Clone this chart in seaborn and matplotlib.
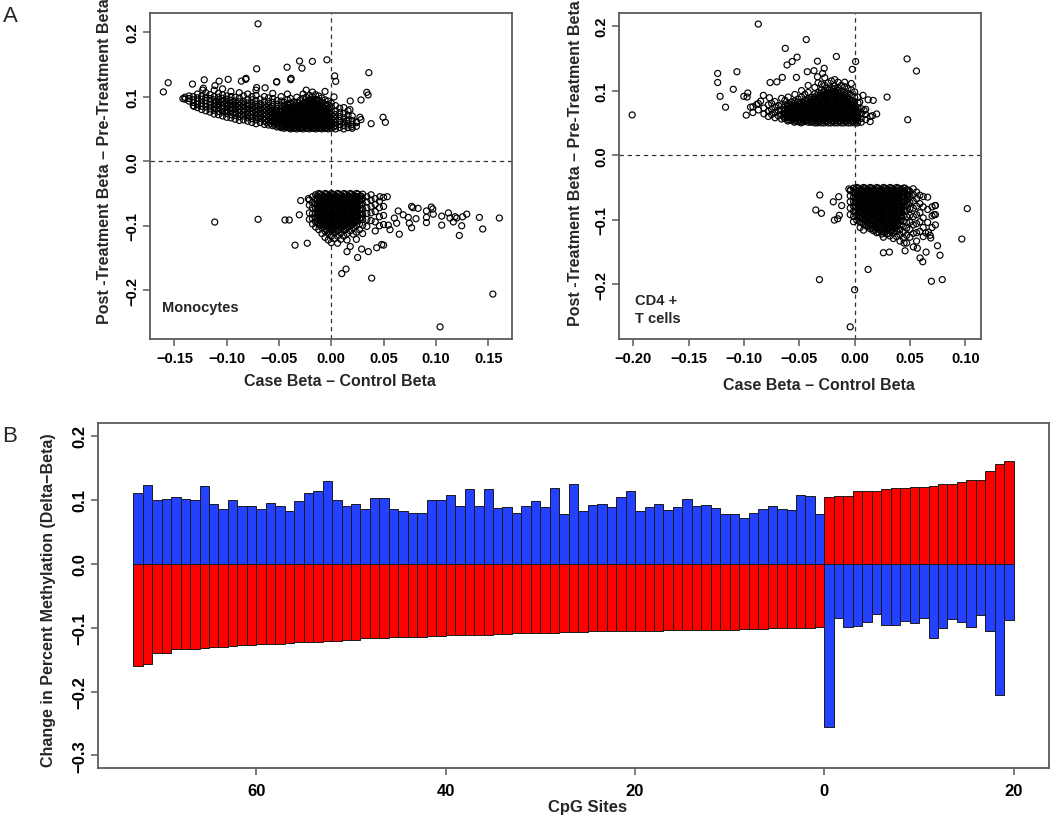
import pandas as pd
import seaborn as sns
import matplotlib.pyplot as plt

sns.set_theme(style="white")
plt.rcParams["font.family"] = ["Liberation Sans", "DejaVu Sans"]

BLUE = "#2441ff"
RED = "#ff0000"
FRAME = "#5a5a5a"

# ---------------- panel A: monocytes (x = case - control, y = post - pre) ----------------
# dense parts read column by column: (x, [y values])
mono_upper = [
    (-0.140, [0.096, 0.099]),
    (-0.136, [0.093, 0.097, 0.101]),
    (-0.132, [0.086, 0.091, 0.095, 0.100]),
    (-0.128, [0.083, 0.088, 0.093, 0.098, 0.104]),
    (-0.124, [0.080, 0.085, 0.090, 0.096, 0.101]),
    (-0.120, [0.078, 0.084, 0.089, 0.094, 0.099, 0.106]),
    (-0.116, [0.076, 0.081, 0.087, 0.092, 0.097, 0.103]),
    (-0.112, [0.073, 0.079, 0.084, 0.090, 0.095, 0.100, 0.110]),
    (-0.108, [0.072, 0.077, 0.083, 0.088, 0.093, 0.099, 0.105]),
    (-0.104, [0.070, 0.076, 0.081, 0.086, 0.092, 0.097, 0.103, 0.112]),
    (-0.100, [0.068, 0.074, 0.079, 0.085, 0.090, 0.096, 0.101]),
    (-0.096, [0.067, 0.072, 0.078, 0.083, 0.089, 0.094, 0.100, 0.108]),
    (-0.092, [0.065, 0.071, 0.076, 0.082, 0.087, 0.093, 0.099]),
    (-0.088, [0.063, 0.069, 0.075, 0.080, 0.086, 0.092, 0.098, 0.106]),
    (-0.084, [0.064, 0.070, 0.076, 0.081, 0.087, 0.093, 0.101]),
    (-0.080, [0.062, 0.067, 0.073, 0.079, 0.085, 0.090, 0.096, 0.104]),
    (-0.076, [0.060, 0.066, 0.072, 0.077, 0.083, 0.089, 0.095, 0.100]),
    (-0.072, [0.058, 0.064, 0.070, 0.076, 0.082, 0.088, 0.094, 0.102, 0.110]),
    (-0.068, [0.060, 0.066, 0.071, 0.077, 0.083, 0.089, 0.096]),
    (-0.064, [0.057, 0.063, 0.069, 0.075, 0.081, 0.087, 0.093, 0.100]),
    (-0.060, [0.056, 0.062, 0.068, 0.074, 0.080, 0.086, 0.092, 0.098]),
    (-0.056, [0.055, 0.061, 0.067, 0.073, 0.079, 0.085, 0.091, 0.097, 0.105]),
    (-0.052, [0.053, 0.058, 0.064, 0.070, 0.076, 0.082, 0.088, 0.094]),
    (-0.048, [0.052, 0.056, 0.061, 0.066, 0.071, 0.076, 0.081, 0.087, 0.093, 0.100]),
    (-0.045, [0.051, 0.055, 0.060, 0.065, 0.070, 0.075, 0.080, 0.085, 0.091]),
    (-0.042, [0.052, 0.057, 0.062, 0.067, 0.072, 0.077, 0.082, 0.088, 0.095, 0.104]),
    (-0.039, [0.050, 0.054, 0.059, 0.064, 0.069, 0.074, 0.079, 0.084, 0.090, 0.097]),
    (-0.036, [0.051, 0.056, 0.061, 0.066, 0.071, 0.076, 0.081, 0.086, 0.092]),
    (-0.033, [0.050, 0.054, 0.059, 0.064, 0.069, 0.074, 0.079, 0.085, 0.091, 0.099]),
    (-0.030, [0.051, 0.056, 0.061, 0.066, 0.071, 0.076, 0.081, 0.087, 0.094]),
    (-0.027, [0.050, 0.054, 0.059, 0.064, 0.069, 0.074, 0.079, 0.084, 0.090, 0.097, 0.104]),
    (-0.024, [0.051, 0.056, 0.061, 0.066, 0.071, 0.076, 0.081, 0.086, 0.092, 0.099, 0.110]),
    (-0.021, [0.050, 0.054, 0.059, 0.064, 0.069, 0.074, 0.079, 0.084, 0.089, 0.095, 0.102]),
    (-0.018, [0.051, 0.056, 0.061, 0.066, 0.071, 0.076, 0.081, 0.087, 0.093, 0.100, 0.107]),
    (-0.015, [0.050, 0.054, 0.059, 0.064, 0.069, 0.074, 0.079, 0.084, 0.090, 0.096, 0.103]),
    (-0.012, [0.051, 0.056, 0.061, 0.066, 0.071, 0.076, 0.081, 0.087, 0.094, 0.101]),
    (-0.009, [0.050, 0.054, 0.059, 0.064, 0.069, 0.074, 0.079, 0.085, 0.091, 0.098]),
    (-0.006, [0.051, 0.056, 0.061, 0.066, 0.071, 0.076, 0.082, 0.088, 0.095, 0.108]),
    (-0.003, [0.050, 0.054, 0.059, 0.064, 0.069, 0.075, 0.081, 0.087, 0.093]),
    (0.000, [0.051, 0.056, 0.061, 0.066, 0.072, 0.078, 0.084, 0.090]),
    (0.004, [0.050, 0.055, 0.060, 0.066, 0.072, 0.078, 0.086]),
    (0.008, [0.052, 0.057, 0.063, 0.069, 0.075, 0.082]),
    (0.012, [0.050, 0.055, 0.061, 0.067, 0.074, 0.083]),
    (0.016, [0.052, 0.058, 0.064, 0.071, 0.078]),
    (0.020, [0.051, 0.057, 0.063, 0.070]),
    (0.024, [0.054, 0.061]),
]
# the solid black core of the same cloud, between the columns above
mono_upper_core = [
    (-0.110, [0.081, 0.087, 0.093]),
    (-0.102, [0.077, 0.083, 0.089, 0.094]),
    (-0.094, [0.075, 0.081, 0.087, 0.092]),
    (-0.086, [0.072, 0.078, 0.084, 0.090]),
    (-0.078, [0.069, 0.075, 0.081, 0.087]),
    (-0.070, [0.067, 0.073, 0.079, 0.085]),
    (-0.062, [0.060, 0.066, 0.072, 0.078, 0.084]),
    (-0.058, [0.058, 0.064, 0.070, 0.076, 0.082]),
    (-0.054, [0.056, 0.061, 0.067, 0.073, 0.079]),
    (-0.050, [0.054, 0.059, 0.065, 0.071, 0.077]),
    (-0.0465, [0.053, 0.058, 0.063, 0.068, 0.073, 0.078]),
    (-0.0435, [0.053, 0.058, 0.063, 0.068, 0.073, 0.078, 0.083]),
    (-0.0405, [0.052, 0.057, 0.062, 0.067, 0.072, 0.077, 0.082]),
    (-0.0375, [0.053, 0.058, 0.063, 0.068, 0.073, 0.078, 0.083]),
    (-0.0345, [0.052, 0.057, 0.062, 0.067, 0.072, 0.077, 0.082, 0.087]),
    (-0.0315, [0.053, 0.058, 0.063, 0.068, 0.073, 0.078, 0.083]),
    (-0.0285, [0.052, 0.057, 0.062, 0.067, 0.072, 0.077, 0.082, 0.087]),
    (-0.0255, [0.053, 0.058, 0.063, 0.068, 0.073, 0.078, 0.083, 0.089]),
    (-0.0225, [0.052, 0.057, 0.062, 0.067, 0.072, 0.077, 0.082, 0.087, 0.093]),
    (-0.0195, [0.053, 0.058, 0.063, 0.068, 0.073, 0.078, 0.083, 0.089, 0.095]),
    (-0.0165, [0.052, 0.057, 0.062, 0.067, 0.072, 0.077, 0.082, 0.087, 0.093]),
    (-0.0135, [0.053, 0.058, 0.063, 0.068, 0.073, 0.078, 0.083, 0.089]),
    (-0.0105, [0.052, 0.057, 0.062, 0.067, 0.072, 0.077, 0.082, 0.087]),
    (-0.0075, [0.053, 0.058, 0.063, 0.068, 0.073, 0.078, 0.083]),
    (-0.0045, [0.052, 0.057, 0.062, 0.067, 0.072, 0.077]),
    (-0.0015, [0.053, 0.058, 0.063, 0.068, 0.073]),
    (0.002, [0.053, 0.058, 0.063, 0.069]),
]
mono_lower = [
    (-0.021, [-0.060, -0.068, -0.080, -0.090]),
    (-0.018, [-0.055, -0.064, -0.072, -0.081, -0.089, -0.097]),
    (-0.015, [-0.052, -0.059, -0.066, -0.073, -0.080, -0.087, -0.094, -0.102]),
    (-0.012, [-0.050, -0.056, -0.063, -0.070, -0.077, -0.084, -0.091, -0.098, -0.106]),
    (-0.009, [-0.053, -0.060, -0.067, -0.074, -0.081, -0.088, -0.095, -0.103, -0.112]),
    (-0.006, [-0.050, -0.056, -0.063, -0.070, -0.077, -0.084, -0.091, -0.099, -0.108, -0.118]),
    (-0.003, [-0.053, -0.060, -0.067, -0.074, -0.081, -0.088, -0.095, -0.103, -0.112, -0.122]),
    (0.000, [-0.050, -0.056, -0.063, -0.070, -0.077, -0.084, -0.091, -0.099, -0.107, -0.116, -0.126]),
    (0.003, [-0.053, -0.060, -0.067, -0.074, -0.081, -0.088, -0.095, -0.103, -0.111, -0.120]),
    (0.006, [-0.050, -0.056, -0.063, -0.070, -0.077, -0.084, -0.091, -0.099, -0.107, -0.116, -0.127]),
    (0.009, [-0.053, -0.060, -0.067, -0.074, -0.081, -0.088, -0.095, -0.103, -0.111, -0.121]),
    (0.012, [-0.050, -0.056, -0.063, -0.070, -0.077, -0.084, -0.091, -0.099, -0.107, -0.116]),
    (0.015, [-0.053, -0.060, -0.067, -0.074, -0.081, -0.088, -0.095, -0.103, -0.112, -0.122]),
    (0.018, [-0.050, -0.056, -0.063, -0.070, -0.077, -0.084, -0.091, -0.099, -0.108]),
    (0.021, [-0.053, -0.060, -0.067, -0.074, -0.081, -0.088, -0.095, -0.103, -0.113]),
    (0.024, [-0.050, -0.057, -0.064, -0.071, -0.078, -0.085, -0.092, -0.100, -0.110, -0.121]),
    (0.027, [-0.054, -0.061, -0.068, -0.075, -0.082, -0.089, -0.097, -0.106]),
    (0.030, [-0.051, -0.058, -0.066, -0.074, -0.082, -0.090, -0.099, -0.112]),
    (0.034, [-0.055, -0.063, -0.072, -0.081, -0.090, -0.101]),
    (0.038, [-0.052, -0.060, -0.070, -0.080, -0.092]),
    (0.042, [-0.058, -0.067, -0.078, -0.094, -0.108]),
    (0.046, [-0.062, -0.072, -0.086, -0.100]),
    (0.050, [-0.056, -0.070, -0.084, -0.098, -0.130]),
]
mono_lower_core = [
    (-0.0135, [-0.054, -0.060, -0.067, -0.074, -0.081, -0.088, -0.095]),
    (-0.0105, [-0.051, -0.057, -0.064, -0.071, -0.078, -0.085, -0.092, -0.099]),
    (-0.0075, [-0.054, -0.060, -0.067, -0.074, -0.081, -0.088, -0.095, -0.102]),
    (-0.0045, [-0.051, -0.057, -0.064, -0.071, -0.078, -0.085, -0.092, -0.099, -0.106]),
    (-0.0015, [-0.054, -0.060, -0.067, -0.074, -0.081, -0.088, -0.095, -0.102, -0.109]),
    (0.0015, [-0.051, -0.057, -0.064, -0.071, -0.078, -0.085, -0.092, -0.099, -0.106]),
    (0.0045, [-0.054, -0.060, -0.067, -0.074, -0.081, -0.088, -0.095, -0.102, -0.109]),
    (0.0075, [-0.051, -0.057, -0.064, -0.071, -0.078, -0.085, -0.092, -0.099, -0.106]),
    (0.0105, [-0.054, -0.060, -0.067, -0.074, -0.081, -0.088, -0.095, -0.102]),
    (0.0135, [-0.051, -0.057, -0.064, -0.071, -0.078, -0.085, -0.092, -0.099, -0.106]),
    (0.0165, [-0.054, -0.060, -0.067, -0.074, -0.081, -0.088, -0.095, -0.102]),
    (0.0195, [-0.051, -0.057, -0.064, -0.071, -0.078, -0.085, -0.092, -0.099]),
    (0.0225, [-0.054, -0.060, -0.067, -0.074, -0.081, -0.088, -0.095]),
    (0.0255, [-0.051, -0.057, -0.064, -0.071, -0.078, -0.085, -0.092]),
    (0.0285, [-0.054, -0.060, -0.067, -0.074, -0.081, -0.088]),
]
mono_sparse = [
    (-0.0701, 0.2126), (-0.1606, 0.1073), (-0.1560, 0.1215), (-0.1328, 0.1194), (-0.1215, 0.1260),
    (-0.1073, 0.1240), (-0.0986, 0.1267), (-0.0860, 0.1240), (-0.0818, 0.1267), (-0.0714, 0.1430),
    (-0.0633, 0.1136), (-0.0524, 0.1225), (-0.0423, 0.1455), (-0.0388, 0.1262), (-0.0304, 0.1550),
    (-0.0281, 0.1440), (-0.0181, 0.1545), (-0.0042, 0.1570), (0.0032, 0.1320), (0.0042, 0.1236),
    (0.0359, 0.1370), (0.0352, 0.1026), (0.0284, 0.0948), (0.0181, 0.0932), (0.0495, 0.0680),
    (0.0517, 0.0602), (0.0381, 0.0581), (0.0284, 0.0644), (0.0242, 0.0597), (0.0194, 0.0534),
    (-0.1419, 0.0969), (-0.1230, 0.1100), (-0.1312, 0.0848), (0.0026, 0.0995), (-0.1224, 0.1130),
    (-0.1113, 0.1170), (-0.0816, 0.1283), (-0.0714, 0.1140), (-0.0522, 0.1231), (-0.0385, 0.1283),
    (0.0339, 0.1066), (0.0178, 0.0798), (0.0274, 0.0680), (0.0146, 0.0627),
    (0.0465, -0.055), (0.0535, -0.055), (0.0640, -0.077), (0.0688, -0.083), (0.0768, -0.070),
    (0.0780, -0.072), (0.0810, -0.089), (0.0830, -0.073), (0.0910, -0.077), (0.0910, -0.087),
    (0.0910, -0.095), (0.0956, -0.071), (0.0970, -0.074), (0.0975, -0.082), (0.1056, -0.085),
    (0.1056, -0.099), (0.1120, -0.080), (0.1135, -0.088), (0.1167, -0.094), (0.1183, -0.086),
    (0.1199, -0.088), (0.1256, -0.086), (0.1247, -0.100), (0.1295, -0.082), (0.1224, -0.115),
    (0.1416, -0.087), (0.1448, -0.105), (0.1607, -0.088),
    (0.0603, -0.088), (0.0625, -0.096), (0.0545, -0.099), (0.0561, -0.106), (0.0650, -0.113),
    (0.0736, -0.087), (0.0746, -0.096), (0.0768, -0.103),
    (-0.0443, -0.091), (-0.0402, -0.091), (-0.0306, -0.083), (-0.0347, -0.130), (-0.0230, -0.127),
    (-0.0293, -0.061), (-0.0220, -0.058),
    (0.0100, -0.174), (0.0141, -0.167), (0.0252, -0.149), (0.0386, -0.181), (0.0181, -0.132),
    (0.0150, -0.140), (0.0434, -0.134), (0.0482, -0.129), (0.0354, -0.140), (0.0290, -0.136),
    (0.1040, -0.2565), (0.1545, -0.2057), (-0.1115, -0.0942), (-0.0700, -0.0900),
]

# ---------------- panel A: CD4+ T cells ----------------
cd4_upper = [
    (-0.098, [0.062]),
    (-0.092, [0.066, 0.075]),
    (-0.087, [0.070, 0.080]),
    (-0.082, [0.064, 0.073]),
    (-0.078, [0.060, 0.068, 0.078]),
    (-0.075, [0.063, 0.071, 0.080]),
    (-0.072, [0.058, 0.066, 0.074, 0.083]),
    (-0.069, [0.061, 0.069, 0.077]),
    (-0.066, [0.056, 0.063, 0.070, 0.078, 0.088]),
    (-0.063, [0.059, 0.065, 0.071, 0.078, 0.085]),
    (-0.060, [0.055, 0.061, 0.067, 0.073, 0.080, 0.090]),
    (-0.057, [0.057, 0.063, 0.069, 0.075, 0.082]),
    (-0.054, [0.053, 0.059, 0.065, 0.071, 0.077, 0.084, 0.094]),
    (-0.051, [0.055, 0.061, 0.067, 0.073, 0.079, 0.087]),
    (-0.048, [0.052, 0.058, 0.064, 0.070, 0.076, 0.082, 0.090, 0.100]),
    (-0.045, [0.054, 0.060, 0.066, 0.072, 0.078, 0.085, 0.094]),
    (-0.042, [0.051, 0.057, 0.063, 0.069, 0.075, 0.081, 0.088, 0.097, 0.108]),
    (-0.039, [0.053, 0.059, 0.065, 0.071, 0.077, 0.083, 0.090]),
    (-0.036, [0.050, 0.056, 0.062, 0.068, 0.074, 0.080, 0.087, 0.095, 0.105]),
    (-0.033, [0.052, 0.058, 0.064, 0.070, 0.076, 0.082, 0.089, 0.097, 0.112]),
    (-0.030, [0.050, 0.056, 0.062, 0.068, 0.074, 0.080, 0.086, 0.093, 0.101, 0.110]),
    (-0.027, [0.053, 0.059, 0.065, 0.071, 0.077, 0.083, 0.090, 0.098, 0.108, 0.120]),
    (-0.024, [0.050, 0.056, 0.062, 0.068, 0.074, 0.080, 0.086, 0.093, 0.101, 0.112]),
    (-0.021, [0.053, 0.059, 0.065, 0.071, 0.077, 0.083, 0.089, 0.096, 0.104, 0.115]),
    (-0.018, [0.050, 0.056, 0.062, 0.068, 0.074, 0.080, 0.086, 0.092, 0.099, 0.107, 0.117]),
    (-0.015, [0.053, 0.059, 0.065, 0.071, 0.077, 0.083, 0.089, 0.096, 0.104, 0.113]),
    (-0.012, [0.050, 0.056, 0.062, 0.068, 0.074, 0.080, 0.086, 0.092, 0.099, 0.108]),
    (-0.009, [0.053, 0.059, 0.065, 0.071, 0.077, 0.083, 0.090, 0.098, 0.106, 0.113]),
    (-0.006, [0.050, 0.056, 0.062, 0.068, 0.074, 0.080, 0.087, 0.095, 0.103]),
    (-0.003, [0.053, 0.059, 0.065, 0.071, 0.078, 0.085, 0.093, 0.101, 0.111]),
    (0.000, [0.050, 0.056, 0.062, 0.068, 0.075, 0.082, 0.090, 0.098]),
    (0.003, [0.053, 0.059, 0.066, 0.073, 0.081, 0.090]),
    (0.006, [0.051, 0.057, 0.064, 0.072]),
    (0.010, [0.055, 0.063, 0.071]),
    (0.014, [0.052, 0.060]),
]
cd4_upper_core = [
    (-0.0635, [0.057, 0.062, 0.068, 0.074]),
    (-0.0605, [0.053, 0.058, 0.064, 0.070, 0.076]),
    (-0.0575, [0.054, 0.060, 0.066, 0.072, 0.078]),
    (-0.0545, [0.051, 0.056, 0.062, 0.068, 0.074, 0.080]),
    (-0.0515, [0.052, 0.058, 0.064, 0.070, 0.076, 0.082]),
    (-0.0485, [0.050, 0.055, 0.061, 0.067, 0.073, 0.079]),
    (-0.0455, [0.052, 0.057, 0.063, 0.069, 0.075, 0.081]),
    (-0.0425, [0.054, 0.060, 0.066, 0.072, 0.078, 0.084]),
    (-0.0395, [0.051, 0.056, 0.062, 0.068, 0.074, 0.080, 0.086]),
    (-0.0365, [0.053, 0.059, 0.065, 0.071, 0.077, 0.083, 0.090]),
    (-0.0335, [0.050, 0.055, 0.061, 0.067, 0.073, 0.079, 0.085, 0.092]),
    (-0.0305, [0.053, 0.059, 0.065, 0.071, 0.077, 0.083, 0.089, 0.096]),
    (-0.0275, [0.050, 0.056, 0.062, 0.068, 0.074, 0.080, 0.086, 0.093, 0.100]),
    (-0.0245, [0.053, 0.059, 0.065, 0.071, 0.077, 0.083, 0.089, 0.096, 0.104]),
    (-0.0215, [0.050, 0.056, 0.062, 0.068, 0.074, 0.080, 0.086, 0.092, 0.100]),
    (-0.0185, [0.053, 0.059, 0.065, 0.071, 0.077, 0.083, 0.089, 0.096, 0.103]),
    (-0.0155, [0.050, 0.056, 0.062, 0.068, 0.074, 0.080, 0.086, 0.092, 0.100]),
    (-0.0125, [0.053, 0.059, 0.065, 0.071, 0.077, 0.083, 0.089, 0.096]),
    (-0.0095, [0.050, 0.056, 0.062, 0.068, 0.074, 0.080, 0.086, 0.093]),
    (-0.0065, [0.053, 0.059, 0.065, 0.071, 0.077, 0.083, 0.090]),
    (-0.0035, [0.050, 0.056, 0.062, 0.068, 0.074, 0.081]),
    (-0.0005, [0.053, 0.059, 0.065, 0.071, 0.078]),
    (0.0025, [0.050, 0.056, 0.062, 0.069]),
]
cd4_lower = [
    (-0.004, [-0.055, -0.063, -0.072, -0.082, -0.092]),
    (-0.001, [-0.051, -0.058, -0.065, -0.072, -0.079, -0.087, -0.095, -0.103]),
    (0.002, [-0.050, -0.056, -0.062, -0.068, -0.074, -0.080, -0.087, -0.094, -0.101]),
    (0.005, [-0.053, -0.059, -0.065, -0.071, -0.077, -0.083, -0.090, -0.097, -0.104, -0.112]),
    (0.008, [-0.050, -0.056, -0.062, -0.068, -0.074, -0.080, -0.086, -0.093, -0.100, -0.107, -0.116]),
    (0.011, [-0.053, -0.059, -0.065, -0.071, -0.077, -0.083, -0.089, -0.096, -0.103, -0.110]),
    (0.014, [-0.050, -0.056, -0.062, -0.068, -0.074, -0.080, -0.086, -0.092, -0.099, -0.106, -0.114]),
    (0.017, [-0.053, -0.059, -0.065, -0.071, -0.077, -0.083, -0.089, -0.095, -0.102, -0.109, -0.117]),
    (0.020, [-0.050, -0.056, -0.062, -0.068, -0.074, -0.080, -0.086, -0.092, -0.098, -0.105, -0.112, -0.120]),
    (0.023, [-0.053, -0.059, -0.065, -0.071, -0.077, -0.083, -0.089, -0.095, -0.101, -0.108, -0.115]),
    (0.026, [-0.050, -0.056, -0.062, -0.068, -0.074, -0.080, -0.086, -0.092, -0.098, -0.104, -0.111, -0.119, -0.127]),
    (0.029, [-0.053, -0.059, -0.065, -0.071, -0.077, -0.083, -0.089, -0.095, -0.101, -0.107, -0.114, -0.122]),
    (0.032, [-0.050, -0.056, -0.062, -0.068, -0.074, -0.080, -0.086, -0.092, -0.098, -0.104, -0.110, -0.117, -0.125]),
    (0.035, [-0.053, -0.059, -0.065, -0.071, -0.077, -0.083, -0.089, -0.095, -0.101, -0.107, -0.113, -0.120, -0.129]),
    (0.038, [-0.050, -0.056, -0.062, -0.068, -0.074, -0.080, -0.086, -0.092, -0.098, -0.104, -0.111, -0.118, -0.126]),
    (0.041, [-0.053, -0.059, -0.066, -0.073, -0.080, -0.087, -0.094, -0.101, -0.108, -0.115, -0.123, -0.133]),
    (0.044, [-0.051, -0.057, -0.064, -0.071, -0.078, -0.086, -0.094, -0.102, -0.110, -0.119, -0.128]),
    (0.047, [-0.054, -0.061, -0.069, -0.077, -0.086, -0.095, -0.104, -0.113, -0.124, -0.136]),
    (0.050, [-0.056, -0.064, -0.073, -0.083, -0.093, -0.104, -0.115, -0.127]),
    (0.053, [-0.052, -0.061, -0.071, -0.082, -0.095, -0.108, -0.121]),
    (0.056, [-0.057, -0.067, -0.079, -0.092, -0.106, -0.120, -0.133]),
    (0.059, [-0.062, -0.075, -0.089, -0.103, -0.118]),
    (0.062, [-0.064, -0.080, -0.097, -0.112, -0.126]),
    (0.066, [-0.065, -0.084, -0.104]),
    (0.070, [-0.080, -0.094, -0.112]),
    (0.073, [-0.078, -0.092, -0.108]),
]
cd4_lower_core = [
    (0.0005, [-0.053, -0.059, -0.066, -0.073, -0.080, -0.088]),
    (0.0035, [-0.051, -0.056, -0.062, -0.068, -0.074, -0.081, -0.088, -0.095]),
    (0.0065, [-0.053, -0.059, -0.065, -0.071, -0.077, -0.083, -0.090, -0.097, -0.104]),
    (0.0095, [-0.051, -0.056, -0.062, -0.068, -0.074, -0.080, -0.086, -0.093, -0.100, -0.107]),
    (0.0125, [-0.053, -0.059, -0.065, -0.071, -0.077, -0.083, -0.089, -0.096, -0.103, -0.110]),
    (0.0155, [-0.051, -0.056, -0.062, -0.068, -0.074, -0.080, -0.086, -0.092, -0.099, -0.106, -0.113]),
    (0.0185, [-0.053, -0.059, -0.065, -0.071, -0.077, -0.083, -0.089, -0.095, -0.102, -0.109, -0.116]),
    (0.0215, [-0.051, -0.056, -0.062, -0.068, -0.074, -0.080, -0.086, -0.092, -0.098, -0.105, -0.112, -0.119]),
    (0.0245, [-0.053, -0.059, -0.065, -0.071, -0.077, -0.083, -0.089, -0.095, -0.101, -0.108, -0.115, -0.122]),
    (0.0275, [-0.051, -0.056, -0.062, -0.068, -0.074, -0.080, -0.086, -0.092, -0.098, -0.104, -0.111, -0.118]),
    (0.0305, [-0.053, -0.059, -0.065, -0.071, -0.077, -0.083, -0.089, -0.095, -0.101, -0.107, -0.114, -0.121]),
    (0.0335, [-0.051, -0.056, -0.062, -0.068, -0.074, -0.080, -0.086, -0.092, -0.098, -0.104, -0.110, -0.117]),
    (0.0365, [-0.053, -0.059, -0.065, -0.071, -0.077, -0.083, -0.089, -0.095, -0.101, -0.107, -0.114]),
    (0.0395, [-0.051, -0.056, -0.062, -0.068, -0.074, -0.080, -0.086, -0.092, -0.098, -0.105]),
    (0.0425, [-0.053, -0.059, -0.065, -0.071, -0.077, -0.083, -0.089, -0.096]),
    (0.0455, [-0.051, -0.057, -0.064, -0.071, -0.078, -0.086]),
    (0.0485, [-0.054, -0.061, -0.068, -0.076]),
]
cd4_sparse = [
    (-0.2011, 0.0623), (-0.0871, 0.2030), (-0.0437, 0.1790), (-0.0627, 0.1654), (-0.0520, 0.1518),
    (-0.0336, 0.1455), (-0.0565, 0.1450), (-0.0611, 0.1397), (-0.0165, 0.1528), (0.0009, 0.1450),
    (-0.0021, 0.1329), (0.0474, 0.1491), (0.0559, 0.1303), (0.0480, 0.0549), (0.0293, 0.0900),
    (-0.1238, 0.1266), (-0.1238, 0.1125), (-0.1216, 0.0911), (-0.1167, 0.0743), (-0.1097, 0.1020),
    (-0.1064, 0.1292), (-0.1002, 0.0911), (-0.0972, 0.0900), (-0.0966, 0.0963), (-0.0941, 0.0743),
    (-0.0886, 0.0785), (-0.0850, 0.0837), (-0.0825, 0.0926), (-0.0770, 0.0890), (-0.0764, 0.1125),
    (-0.0703, 0.1135), (-0.0654, 0.1204), (-0.0526, 0.1204), (-0.0428, 0.1292), (-0.0367, 0.1308),
    (-0.0275, 0.1345), (-0.0336, 0.1214), (-0.0290, 0.1266),
    (0.0076, 0.0926), (0.0122, 0.0858), (0.0162, 0.0612), (0.0199, 0.0638), (0.0168, 0.0848),
    (0.0046, 0.0822), (0.0086, 0.0691),
    (-0.0315, -0.0617), (-0.0351, -0.0848), (-0.0300, -0.0900), (-0.0183, -0.1005), (-0.0153, -0.0984),
    (-0.0138, -0.0931), (-0.0144, -0.0643), (-0.0193, -0.0722), (-0.0117, -0.0780),
    (0.1018, -0.0827), (0.0969, -0.1298), (0.0122, -0.1769), (-0.0318, -0.1926), (0.0694, -0.1952),
    (0.0792, -0.1926), (0.0260, -0.1510), (0.0314, -0.1500), (0.0591, -0.1590), (0.0616, -0.1650),
    (0.0772, -0.1549), (0.0646, -0.1500), (0.0567, -0.1440), (0.0727, -0.0780), (0.0718, -0.0920),
    (0.0682, -0.1240), (0.0667, -0.1190), (0.0456, -0.1480), (0.0531, -0.1420), (0.0447, -0.1360),
    (0.0000, -0.2083), (-0.0040, -0.2658), (0.0749, -0.1402), (0.0688, -0.1282), (0.0642, -0.1203),
    (-0.0052, -0.0523), (-0.0037, -0.0539),
]

mono_xticks = [-0.15, -0.10, -0.05, 0.00, 0.05, 0.10, 0.15]
mono_xlabels = ["\u22120.15", "\u22120.10", "\u22120.05", "0.00", "0.05", "0.10", "0.15"]
cd4_xticks = [-0.20, -0.15, -0.10, -0.05, 0.00, 0.05, 0.10]
cd4_xlabels = ["\u22120.20", "\u22120.15", "\u22120.10", "\u22120.05", "0.00", "0.05", "0.10"]
beta_yticks = [-0.2, -0.1, 0.0, 0.1, 0.2]
beta_ylabels = ["\u22120.2", "\u22120.1", "0.0", "0.1", "0.2"]

# ---------------- panel B: delta-beta per CpG site ----------------
left_blue = [0.110, 0.123, 0.099, 0.101, 0.104, 0.102, 0.099, 0.122, 0.093, 0.086,
             0.100, 0.091, 0.091, 0.085, 0.095, 0.091, 0.083, 0.098, 0.111, 0.114,
             0.129, 0.099, 0.091, 0.094, 0.085, 0.103, 0.103, 0.085, 0.082, 0.080,
             0.080, 0.099, 0.100, 0.107, 0.090, 0.117, 0.091, 0.117, 0.087, 0.088,
             0.079,
             0.091, 0.098, 0.089, 0.118, 0.078, 0.124, 0.083, 0.092, 0.093, 0.088,
             0.104, 0.113, 0.083, 0.088, 0.093, 0.084, 0.089, 0.101, 0.090, 0.092,
             0.087, 0.077, 0.077, 0.072, 0.080, 0.085, 0.090, 0.086, 0.084, 0.108,
             0.106, 0.078]
left_red = [-0.160, -0.157, -0.140, -0.139, -0.134, -0.134, -0.133, -0.132, -0.131, -0.130,
            -0.129, -0.128, -0.127, -0.126, -0.125, -0.125, -0.124, -0.123, -0.122, -0.122,
            -0.121, -0.121, -0.120, -0.119, -0.117, -0.116, -0.116, -0.115, -0.115, -0.114,
            -0.114, -0.113, -0.113, -0.112, -0.112, -0.112, -0.111, -0.111, -0.110, -0.110,
            -0.109,
            -0.109, -0.108, -0.108, -0.108, -0.107, -0.107, -0.107, -0.106, -0.106, -0.106,
            -0.106, -0.105, -0.105, -0.105, -0.105, -0.104, -0.104, -0.104, -0.104, -0.103,
            -0.103, -0.103, -0.103, -0.102, -0.102, -0.102, -0.101, -0.101, -0.101, -0.100,
            -0.100, -0.099]
right_red = [0.1045, 0.1056, 0.1056, 0.1130, 0.1130, 0.1130, 0.1161, 0.1188, 0.1188, 0.1198,
             0.1198, 0.1219, 0.1246, 0.1251, 0.1278, 0.1304, 0.1309, 0.1452, 0.1558, 0.1605]
right_blue = [-0.2562, -0.0845, -0.0993, -0.0978, -0.0909, -0.0788, -0.0967, -0.0962, -0.0898, -0.0925,
              -0.0856, -0.1163, -0.1014, -0.0867, -0.0920, -0.0993, -0.0809, -0.1052, -0.2050, -0.0883]
cpg_ticklabels = ["60", "40", "20", "0", "20"]
delta_yticks = [-0.3, -0.2, -0.1, 0.0, 0.1, 0.2]
delta_ylabels = ["\u22120.3", "\u22120.2", "\u22120.1", "0.0", "0.1", "0.2"]


def expand(columns):
    return [(x, y) for x, ys in columns for y in ys]


W, H = 1050, 820
fig = plt.figure(figsize=(10.5, 8.2), dpi=100)


def box(l, t, r, b):
    return fig.add_axes([l / W, 1 - b / H, (r - l) / W, (b - t) / H])


def frame(ax, size):
    for s in ax.spines.values():
        s.set_visible(True)
        s.set_color(FRAME)
        s.set_linewidth(1.3)
    ax.tick_params(direction="out", length=5, width=1.1, color=FRAME, labelsize=size,
                   bottom=True, left=True, top=False, right=False, labelcolor="black")
    ax.set_xlabel("")
    ax.set_ylabel("")


def scatter_panel(ax, pts, xlim, ylim, xticks, xlabels):
    df = pd.DataFrame(pts, columns=["case_ctrl", "post_pre"])
    sns.scatterplot(data=df, x="case_ctrl", y="post_pre", ax=ax, s=19, color="black",
                    linewidth=0.85, zorder=3)
    for coll in ax.collections:
        coll.set_facecolor("none")
        coll.set_edgecolor("black")
    ax.axhline(0, color="#333333", lw=0.9, ls=(0, (3.5, 3)), zorder=2)
    ax.axvline(0, color="#333333", lw=0.9, ls=(0, (3.5, 3)), zorder=2)
    ax.set_xlim(*xlim)
    ax.set_ylim(*ylim)
    frame(ax, 10.5)
    ax.set_xticks(xticks, labels=xlabels, fontweight="bold")
    ax.set_yticks(beta_yticks, labels=beta_ylabels, fontweight="bold", rotation=90, va="center")
    ax.tick_params(axis="x", pad=4)
    ax.tick_params(axis="y", pad=3)


ax1 = box(150.1, 13.5, 512.1, 339.7)
scatter_panel(ax1, expand(mono_upper) + expand(mono_upper_core) + expand(mono_lower)
              + expand(mono_lower_core) + mono_sparse,
              (-0.1733, 0.1729), (-0.2748, 0.2302), mono_xticks, mono_xlabels)
ax1.text(161.6 / W, 1 - 307.6 / H, "Monocytes", transform=fig.transFigure,
         fontsize=10.5, fontweight="bold", ha="left", va="center")

ax2 = box(619.0, 13.5, 981.4, 339.7)
scatter_panel(ax2, expand(cd4_upper) + expand(cd4_upper_core) + expand(cd4_lower)
              + expand(cd4_lower_core) + cd4_sparse,
              (-0.2130, 0.1146), (-0.2841, 0.2209), cd4_xticks, cd4_xlabels)
ax2.text(635 / W, 1 - 310 / H, "CD4 +\nT cells", transform=fig.transFigure,
         fontsize=10.5, fontweight="bold", ha="left", va="center", linespacing=1.35)

lab = dict(fontsize=11.5, fontweight="bold")
fig.text(339.7 / W, 1 - 382 / H, "Case Beta \u2013 Control Beta", ha="center", va="center", **lab)
fig.text(819.1 / W, 1 - 385.3 / H, "Case Beta \u2013 Control Beta", ha="center", va="center", **lab)
fig.text(104.8 / W, 1 - 324.5 / H, "Post -Treatment Beta \u2013 Pre-Treatment Beta",
         rotation=90, rotation_mode="anchor", ha="left", va="center", **lab)
fig.text(575.8 / W, 1 - 326.2 / H, "Post -Treatment Beta \u2013 Pre-Treatment Beta",
         rotation=90, rotation_mode="anchor", ha="left", va="center", **lab)

# ---------------- bar panel ----------------
n_left = len(left_blue)
sites = list(range(n_left + len(right_red)))
bars = pd.DataFrame({
    "site": sites * 2,
    "delta": left_red + right_red + left_blue + right_blue,
    "colour": ["red"] * len(sites) + ["blue"] * len(sites),
})

ax3 = box(98.0, 424.1, 1049.0, 769.2)
sns.barplot(data=bars, x="site", y="delta", hue="colour", palette={"red": RED, "blue": BLUE},
            dodge=False, width=1.0, saturation=1, edgecolor="#1a1a1a", linewidth=0.7,
            errorbar=None, legend=False, ax=ax3)
frame(ax3, 12)
zero = n_left - 0.5
ax3.set_xticks([zero - 60, zero - 40, zero - 20, zero, zero + 20],
               labels=cpg_ticklabels, fontweight="bold")
ax3.set_yticks(delta_yticks, labels=delta_ylabels, fontweight="bold", rotation=90, va="center")
ax3.set_xlim(-0.5 - 3.72, len(sites) - 0.5 + 3.72)
ax3.set_ylim(-0.32, 0.22)
ax3.tick_params(axis="x", pad=6)
ax3.tick_params(axis="y", pad=3)

fig.text(49 / W, 1 - 600 / H, "Change in Percent Methylation (Delta\u2212Beta)",
         rotation=90, ha="center", va="center", fontsize=11.5, fontweight="bold")
fig.text(587.6 / W, 1 - 808 / H, "CpG Sites", ha="center", va="center",
         fontsize=12, fontweight="bold")

fig.text(10 / W, 1 - 17 / H, "A", ha="center", va="center", fontsize=16)
fig.text(10 / W, 1 - 437 / H, "B", ha="center", va="center", fontsize=16)

fig.savefig("out.png", dpi=100)
